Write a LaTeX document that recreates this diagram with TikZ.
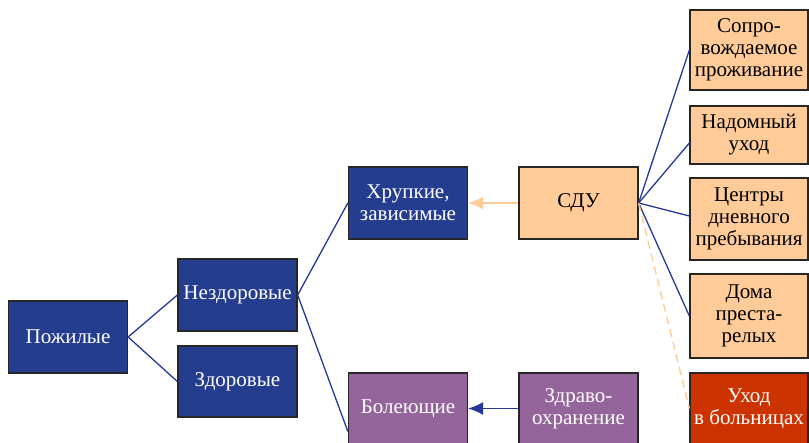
\documentclass[tikz,border=0pt]{standalone}
\usepackage{fontspec}
\setmainfont{Liberation Serif}
\newfontfamily\boxfont{Liberation Serif}
\usepackage{tikz}
\usetikzlibrary{arrows.meta}

\definecolor{darkblue}{RGB}{37,61,142}
\definecolor{linblue}{RGB}{40,56,150}
\definecolor{lilac}{RGB}{148,101,154}
\definecolor{peach}{RGB}{255,204,153}
\definecolor{brick}{RGB}{204,51,0}

\begin{document}
\begin{tikzpicture}[x=1pt, y=-1pt, >={Latex[length=15pt,width=13pt]},
  box/.style={draw=black!85, line width=1.3pt, align=center, inner sep=0pt,
    minimum width=119pt, font=\boxfont\fontsize{21}{22}\selectfont},
  bluebox/.style={box, fill=darkblue, text=white},
  lilacbox/.style={box, fill=lilac, text=white},
  peachbox/.style={box, fill=peach, text=black},
  redbox/.style={box, fill=brick, text=white},
  link/.style={linblue, line width=1.3pt}]
 			%%%	Bounding
 			\useasboundingbox (0,0) rectangle (809,443);
 			%%%	Boxes
 			\node[bluebox, minimum height=72pt] (pozh) at (68,337) {Пожилые};
 			\node[bluebox, minimum height=72pt] (nezdor) at (237.5,295) {Нездоровые};
 			\node[bluebox, minimum height=71pt] (zdor) at (237.5,381.5) {Здоровые};
 			\node[bluebox, minimum height=72pt] (hrup) at (408,203) {Хрупкие,\\зависимые};
 			\node[lilacbox, minimum height=71pt] (bol) at (408,408.5) {Болеющие};
 			\node[peachbox, minimum height=72pt] (sdu) at (578.5,203) {СДУ};
 			\node[lilacbox, minimum height=71pt] (zdrav) at (578.5,408.5) {Здраво-\\охранение};
 			\node[peachbox, minimum width=118pt, minimum height=80pt] (sopr) at (749,50) {Сопро-\\вождаемое\\проживание};
 			\node[peachbox, minimum width=118pt, minimum height=58pt] (nadom) at (749,135) {Надомный\\уход};
 			\node[peachbox, minimum width=118pt, minimum height=82pt] (centr) at (749,219) {Центры\\дневного\\пребывания};
 			\node[peachbox, minimum width=118pt, minimum height=84pt] (doma) at (749,316) {Дома\\преста-\\релых};
 			\node[redbox, minimum width=118pt, minimum height=71pt] (bolnic) at (749,408.5) {Уход\\в больницах};
 			%%%	Links
 			\draw[link] (pozh.east) -- (nezdor.west);
 			\draw[link] (pozh.east) -- (zdor.west);
 			\draw[link] (nezdor.east) -- (hrup.west);
 			\draw[link] (nezdor.east) -- ([yshift=-23pt]bol.west);
 			\draw[link] (sdu.east) -- (sopr.west);
 			\draw[link] (sdu.east) -- ([yshift=-8pt]nadom.west);
 			\draw[link] (sdu.east) -- ([yshift=3pt]centr.west);
 			\draw[link] (sdu.east) -- (doma.west);
 			\draw[peach, line width=1.4pt, dash pattern=on 8pt off 5pt] (sdu.east) -- (bolnic.west);
 			%%%	Arrows
 			\draw[->, peach, line width=1.4pt] (sdu.west) -- (hrup.east);
 			\draw[->, linblue, line width=1.4pt] (zdrav.west) -- (bol.east);
 		\end{tikzpicture}
\end{document}
